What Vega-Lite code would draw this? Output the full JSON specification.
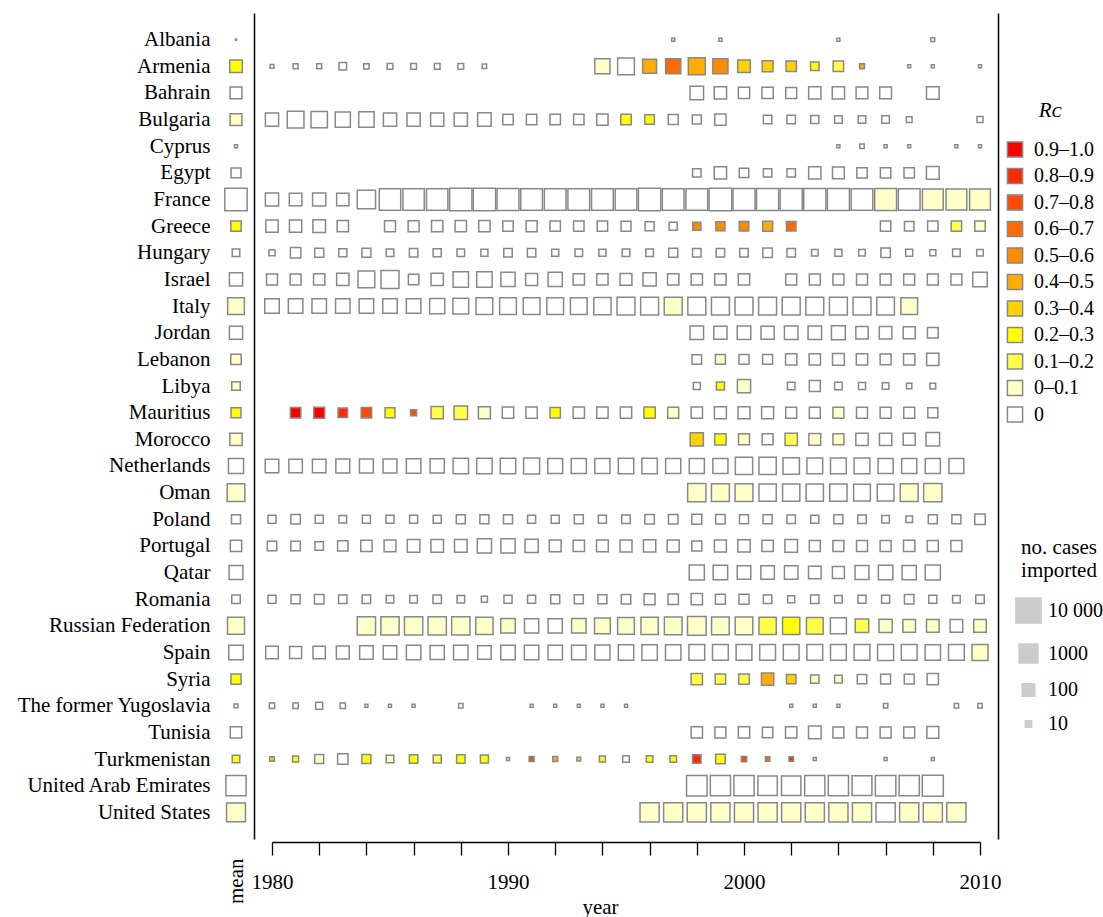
{
"$schema": "https://vega.github.io/schema/vega-lite/v6.json",
"padding": {"left": 16, "top": 13, "right": 2, "bottom": 0},
"config": {"font": "Liberation Serif", "view": {"stroke": null}, "axis": {"grid": false, "labelColor": "black", "titleColor": "black", "labelFont": "Liberation Serif", "titleFont": "Liberation Serif"}, "legend": {"labelFont": "Liberation Serif", "titleFont": "Liberation Serif", "labelColor": "black", "titleColor": "black"}},
"datasets": {
"means": [
{"country":"Albania","cases":1.5,"Rc":"0"},
{"country":"Armenia","cases":100,"Rc":"0.2–0.3"},
{"country":"Bahrain","cases":75,"Rc":"0"},
{"country":"Bulgaria","cases":75,"Rc":"0–0.1"},
{"country":"Cyprus","cases":3,"Rc":"0"},
{"country":"Egypt","cases":38,"Rc":"0"},
{"country":"France","cases":3500,"Rc":"0"},
{"country":"Greece","cases":45,"Rc":"0.2–0.3"},
{"country":"Hungary","cases":16,"Rc":"0"},
{"country":"Israel","cases":125,"Rc":"0"},
{"country":"Italy","cases":450,"Rc":"0–0.1"},
{"country":"Jordan","cases":125,"Rc":"0"},
{"country":"Lebanon","cases":45,"Rc":"0–0.1"},
{"country":"Libya","cases":22,"Rc":"0–0.1"},
{"country":"Mauritius","cases":38,"Rc":"0.2–0.3"},
{"country":"Morocco","cases":90,"Rc":"0–0.1"},
{"country":"Netherlands","cases":250,"Rc":"0"},
{"country":"Oman","cases":630,"Rc":"0–0.1"},
{"country":"Poland","cases":27,"Rc":"0"},
{"country":"Portugal","cases":63,"Rc":"0"},
{"country":"Qatar","cases":160,"Rc":"0"},
{"country":"Romania","cases":22,"Rc":"0"},
{"country":"Russian Federation","cases":500,"Rc":"0–0.1"},
{"country":"Spain","cases":200,"Rc":"0"},
{"country":"Syria","cases":40,"Rc":"0.2–0.3"},
{"country":"The former Yugoslavia","cases":4,"Rc":"0"},
{"country":"Tunisia","cases":63,"Rc":"0"},
{"country":"Turkmenistan","cases":16,"Rc":"0.2–0.3"},
{"country":"United Arab Emirates","cases":1600,"Rc":"0"},
{"country":"United States","cases":1000,"Rc":"0–0.1"}
],
"annual": [
{"country":"Albania","year":1997,"cases":3,"Rc":"0"},
{"country":"Albania","year":1999,"cases":3,"Rc":"0"},
{"country":"Albania","year":2004,"cases":3,"Rc":"0"},
{"country":"Albania","year":2008,"cases":4,"Rc":"0"},
{"country":"Armenia","year":1980,"cases":4,"Rc":"0"},
{"country":"Armenia","year":1981,"cases":6,"Rc":"0"},
{"country":"Armenia","year":1982,"cases":6,"Rc":"0"},
{"country":"Armenia","year":1983,"cases":16,"Rc":"0"},
{"country":"Armenia","year":1984,"cases":7,"Rc":"0"},
{"country":"Armenia","year":1985,"cases":8,"Rc":"0"},
{"country":"Armenia","year":1986,"cases":8,"Rc":"0"},
{"country":"Armenia","year":1987,"cases":8,"Rc":"0"},
{"country":"Armenia","year":1988,"cases":8,"Rc":"0"},
{"country":"Armenia","year":1989,"cases":5,"Rc":"0"},
{"country":"Armenia","year":1994,"cases":250,"Rc":"0–0.1"},
{"country":"Armenia","year":1995,"cases":450,"Rc":"0"},
{"country":"Armenia","year":1996,"cases":160,"Rc":"0.4–0.5"},
{"country":"Armenia","year":1997,"cases":250,"Rc":"0.6–0.7"},
{"country":"Armenia","year":1998,"cases":500,"Rc":"0.4–0.5"},
{"country":"Armenia","year":1999,"cases":250,"Rc":"0.5–0.6"},
{"country":"Armenia","year":2000,"cases":100,"Rc":"0.3–0.4"},
{"country":"Armenia","year":2001,"cases":53,"Rc":"0.3–0.4"},
{"country":"Armenia","year":2002,"cases":45,"Rc":"0.3–0.4"},
{"country":"Armenia","year":2003,"cases":22,"Rc":"0.2–0.3"},
{"country":"Armenia","year":2004,"cases":45,"Rc":"0.1–0.2"},
{"country":"Armenia","year":2005,"cases":6,"Rc":"0.4–0.5"},
{"country":"Armenia","year":2007,"cases":3,"Rc":"0"},
{"country":"Armenia","year":2008,"cases":3,"Rc":"0"},
{"country":"Armenia","year":2010,"cases":3,"Rc":"0"},
{"country":"Bahrain","year":1998,"cases":140,"Rc":"0"},
{"country":"Bahrain","year":1999,"cases":90,"Rc":"0"},
{"country":"Bahrain","year":2000,"cases":63,"Rc":"0"},
{"country":"Bahrain","year":2001,"cases":63,"Rc":"0"},
{"country":"Bahrain","year":2002,"cases":55,"Rc":"0"},
{"country":"Bahrain","year":2003,"cases":90,"Rc":"0"},
{"country":"Bahrain","year":2004,"cases":90,"Rc":"0"},
{"country":"Bahrain","year":2005,"cases":75,"Rc":"0"},
{"country":"Bahrain","year":2006,"cases":75,"Rc":"0"},
{"country":"Bahrain","year":2008,"cases":100,"Rc":"0"},
{"country":"Bulgaria","year":1980,"cases":125,"Rc":"0"},
{"country":"Bulgaria","year":1981,"cases":450,"Rc":"0"},
{"country":"Bulgaria","year":1982,"cases":400,"Rc":"0"},
{"country":"Bulgaria","year":1983,"cases":250,"Rc":"0"},
{"country":"Bulgaria","year":1984,"cases":280,"Rc":"0"},
{"country":"Bulgaria","year":1985,"cases":125,"Rc":"0"},
{"country":"Bulgaria","year":1986,"cases":125,"Rc":"0"},
{"country":"Bulgaria","year":1987,"cases":125,"Rc":"0"},
{"country":"Bulgaria","year":1988,"cases":125,"Rc":"0"},
{"country":"Bulgaria","year":1989,"cases":140,"Rc":"0"},
{"country":"Bulgaria","year":1990,"cases":45,"Rc":"0"},
{"country":"Bulgaria","year":1991,"cases":45,"Rc":"0"},
{"country":"Bulgaria","year":1992,"cases":45,"Rc":"0"},
{"country":"Bulgaria","year":1993,"cases":45,"Rc":"0"},
{"country":"Bulgaria","year":1994,"cases":63,"Rc":"0"},
{"country":"Bulgaria","year":1995,"cases":45,"Rc":"0.2–0.3"},
{"country":"Bulgaria","year":1996,"cases":32,"Rc":"0.2–0.3"},
{"country":"Bulgaria","year":1997,"cases":38,"Rc":"0"},
{"country":"Bulgaria","year":1998,"cases":27,"Rc":"0"},
{"country":"Bulgaria","year":1999,"cases":63,"Rc":"0"},
{"country":"Bulgaria","year":2001,"cases":22,"Rc":"0"},
{"country":"Bulgaria","year":2002,"cases":22,"Rc":"0"},
{"country":"Bulgaria","year":2003,"cases":19,"Rc":"0"},
{"country":"Bulgaria","year":2004,"cases":16,"Rc":"0"},
{"country":"Bulgaria","year":2005,"cases":16,"Rc":"0"},
{"country":"Bulgaria","year":2006,"cases":16,"Rc":"0"},
{"country":"Bulgaria","year":2007,"cases":8,"Rc":"0"},
{"country":"Bulgaria","year":2010,"cases":9,"Rc":"0"},
{"country":"Cyprus","year":2004,"cases":3,"Rc":"0"},
{"country":"Cyprus","year":2005,"cases":5,"Rc":"0"},
{"country":"Cyprus","year":2006,"cases":3,"Rc":"0"},
{"country":"Cyprus","year":2007,"cases":3,"Rc":"0"},
{"country":"Cyprus","year":2009,"cases":3,"Rc":"0"},
{"country":"Cyprus","year":2010,"cases":3,"Rc":"0"},
{"country":"Egypt","year":1998,"cases":22,"Rc":"0"},
{"country":"Egypt","year":1999,"cases":90,"Rc":"0"},
{"country":"Egypt","year":2000,"cases":32,"Rc":"0"},
{"country":"Egypt","year":2001,"cases":22,"Rc":"0"},
{"country":"Egypt","year":2002,"cases":22,"Rc":"0"},
{"country":"Egypt","year":2003,"cases":90,"Rc":"0"},
{"country":"Egypt","year":2004,"cases":75,"Rc":"0"},
{"country":"Egypt","year":2005,"cases":45,"Rc":"0"},
{"country":"Egypt","year":2006,"cases":45,"Rc":"0"},
{"country":"Egypt","year":2007,"cases":45,"Rc":"0"},
{"country":"Egypt","year":2008,"cases":105,"Rc":"0"},
{"country":"France","year":1980,"cases":125,"Rc":"0"},
{"country":"France","year":1981,"cases":100,"Rc":"0"},
{"country":"France","year":1982,"cases":125,"Rc":"0"},
{"country":"France","year":1983,"cases":90,"Rc":"0"},
{"country":"France","year":1984,"cases":800,"Rc":"0"},
{"country":"France","year":1985,"cases":2500,"Rc":"0"},
{"country":"France","year":1986,"cases":2500,"Rc":"0"},
{"country":"France","year":1987,"cases":2500,"Rc":"0"},
{"country":"France","year":1988,"cases":3500,"Rc":"0"},
{"country":"France","year":1989,"cases":3500,"Rc":"0"},
{"country":"France","year":1990,"cases":3000,"Rc":"0"},
{"country":"France","year":1991,"cases":2800,"Rc":"0"},
{"country":"France","year":1992,"cases":2800,"Rc":"0"},
{"country":"France","year":1993,"cases":2800,"Rc":"0"},
{"country":"France","year":1994,"cases":2800,"Rc":"0"},
{"country":"France","year":1995,"cases":2800,"Rc":"0"},
{"country":"France","year":1996,"cases":3500,"Rc":"0"},
{"country":"France","year":1997,"cases":2800,"Rc":"0"},
{"country":"France","year":1998,"cases":2800,"Rc":"0"},
{"country":"France","year":1999,"cases":4000,"Rc":"0"},
{"country":"France","year":2000,"cases":3200,"Rc":"0"},
{"country":"France","year":2001,"cases":3200,"Rc":"0"},
{"country":"France","year":2002,"cases":3200,"Rc":"0"},
{"country":"France","year":2003,"cases":3200,"Rc":"0"},
{"country":"France","year":2004,"cases":3200,"Rc":"0"},
{"country":"France","year":2005,"cases":2800,"Rc":"0"},
{"country":"France","year":2006,"cases":3000,"Rc":"0–0.1"},
{"country":"France","year":2007,"cases":2800,"Rc":"0"},
{"country":"France","year":2008,"cases":2000,"Rc":"0–0.1"},
{"country":"France","year":2009,"cases":2000,"Rc":"0–0.1"},
{"country":"France","year":2010,"cases":2000,"Rc":"0–0.1"},
{"country":"Greece","year":1980,"cases":90,"Rc":"0"},
{"country":"Greece","year":1981,"cases":90,"Rc":"0"},
{"country":"Greece","year":1982,"cases":100,"Rc":"0"},
{"country":"Greece","year":1983,"cases":63,"Rc":"0"},
{"country":"Greece","year":1985,"cases":55,"Rc":"0"},
{"country":"Greece","year":1986,"cases":55,"Rc":"0"},
{"country":"Greece","year":1987,"cases":63,"Rc":"0"},
{"country":"Greece","year":1988,"cases":63,"Rc":"0"},
{"country":"Greece","year":1989,"cases":63,"Rc":"0"},
{"country":"Greece","year":1990,"cases":45,"Rc":"0"},
{"country":"Greece","year":1991,"cases":55,"Rc":"0"},
{"country":"Greece","year":1992,"cases":45,"Rc":"0"},
{"country":"Greece","year":1993,"cases":45,"Rc":"0"},
{"country":"Greece","year":1994,"cases":45,"Rc":"0"},
{"country":"Greece","year":1995,"cases":38,"Rc":"0"},
{"country":"Greece","year":1996,"cases":27,"Rc":"0"},
{"country":"Greece","year":1997,"cases":19,"Rc":"0"},
{"country":"Greece","year":1998,"cases":19,"Rc":"0.5–0.6"},
{"country":"Greece","year":1999,"cases":27,"Rc":"0.5–0.6"},
{"country":"Greece","year":2000,"cases":32,"Rc":"0.5–0.6"},
{"country":"Greece","year":2001,"cases":38,"Rc":"0.4–0.5"},
{"country":"Greece","year":2002,"cases":32,"Rc":"0.6–0.7"},
{"country":"Greece","year":2006,"cases":45,"Rc":"0"},
{"country":"Greece","year":2007,"cases":32,"Rc":"0"},
{"country":"Greece","year":2008,"cases":45,"Rc":"0"},
{"country":"Greece","year":2009,"cases":45,"Rc":"0.1–0.2"},
{"country":"Greece","year":2010,"cases":45,"Rc":"0–0.1"},
{"country":"Hungary","year":1980,"cases":9,"Rc":"0"},
{"country":"Hungary","year":1981,"cases":45,"Rc":"0"},
{"country":"Hungary","year":1982,"cases":27,"Rc":"0"},
{"country":"Hungary","year":1983,"cases":19,"Rc":"0"},
{"country":"Hungary","year":1984,"cases":27,"Rc":"0"},
{"country":"Hungary","year":1985,"cases":16,"Rc":"0"},
{"country":"Hungary","year":1986,"cases":22,"Rc":"0"},
{"country":"Hungary","year":1987,"cases":19,"Rc":"0"},
{"country":"Hungary","year":1988,"cases":16,"Rc":"0"},
{"country":"Hungary","year":1989,"cases":13,"Rc":"0"},
{"country":"Hungary","year":1990,"cases":22,"Rc":"0"},
{"country":"Hungary","year":1991,"cases":22,"Rc":"0"},
{"country":"Hungary","year":1992,"cases":13,"Rc":"0"},
{"country":"Hungary","year":1993,"cases":16,"Rc":"0"},
{"country":"Hungary","year":1994,"cases":13,"Rc":"0"},
{"country":"Hungary","year":1995,"cases":16,"Rc":"0"},
{"country":"Hungary","year":1996,"cases":16,"Rc":"0"},
{"country":"Hungary","year":1997,"cases":27,"Rc":"0"},
{"country":"Hungary","year":1998,"cases":22,"Rc":"0"},
{"country":"Hungary","year":1999,"cases":22,"Rc":"0"},
{"country":"Hungary","year":2000,"cases":22,"Rc":"0"},
{"country":"Hungary","year":2001,"cases":32,"Rc":"0"},
{"country":"Hungary","year":2002,"cases":22,"Rc":"0"},
{"country":"Hungary","year":2003,"cases":11,"Rc":"0"},
{"country":"Hungary","year":2004,"cases":13,"Rc":"0"},
{"country":"Hungary","year":2005,"cases":11,"Rc":"0"},
{"country":"Hungary","year":2006,"cases":32,"Rc":"0"},
{"country":"Hungary","year":2007,"cases":13,"Rc":"0"},
{"country":"Hungary","year":2008,"cases":9,"Rc":"0"},
{"country":"Hungary","year":2009,"cases":16,"Rc":"0"},
{"country":"Hungary","year":2010,"cases":11,"Rc":"0"},
{"country":"Israel","year":1980,"cases":55,"Rc":"0"},
{"country":"Israel","year":1981,"cases":55,"Rc":"0"},
{"country":"Israel","year":1982,"cases":63,"Rc":"0"},
{"country":"Israel","year":1983,"cases":90,"Rc":"0"},
{"country":"Israel","year":1984,"cases":450,"Rc":"0"},
{"country":"Israel","year":1985,"cases":700,"Rc":"0"},
{"country":"Israel","year":1986,"cases":45,"Rc":"0"},
{"country":"Israel","year":1987,"cases":90,"Rc":"0"},
{"country":"Israel","year":1988,"cases":280,"Rc":"0"},
{"country":"Israel","year":1989,"cases":280,"Rc":"0"},
{"country":"Israel","year":1990,"cases":180,"Rc":"0"},
{"country":"Israel","year":1991,"cases":80,"Rc":"0"},
{"country":"Israel","year":1992,"cases":180,"Rc":"0"},
{"country":"Israel","year":1993,"cases":63,"Rc":"0"},
{"country":"Israel","year":1994,"cases":63,"Rc":"0"},
{"country":"Israel","year":1995,"cases":75,"Rc":"0"},
{"country":"Israel","year":1996,"cases":125,"Rc":"0"},
{"country":"Israel","year":1997,"cases":63,"Rc":"0"},
{"country":"Israel","year":1998,"cases":63,"Rc":"0"},
{"country":"Israel","year":1999,"cases":63,"Rc":"0"},
{"country":"Israel","year":2000,"cases":63,"Rc":"0"},
{"country":"Israel","year":2002,"cases":55,"Rc":"0"},
{"country":"Israel","year":2003,"cases":55,"Rc":"0"},
{"country":"Israel","year":2004,"cases":55,"Rc":"0"},
{"country":"Israel","year":2005,"cases":55,"Rc":"0"},
{"country":"Israel","year":2006,"cases":55,"Rc":"0"},
{"country":"Israel","year":2007,"cases":55,"Rc":"0"},
{"country":"Israel","year":2008,"cases":55,"Rc":"0"},
{"country":"Israel","year":2009,"cases":55,"Rc":"0"},
{"country":"Israel","year":2010,"cases":200,"Rc":"0"},
{"country":"Italy","year":1980,"cases":200,"Rc":"0"},
{"country":"Italy","year":1981,"cases":200,"Rc":"0"},
{"country":"Italy","year":1982,"cases":200,"Rc":"0"},
{"country":"Italy","year":1983,"cases":200,"Rc":"0"},
{"country":"Italy","year":1984,"cases":200,"Rc":"0"},
{"country":"Italy","year":1985,"cases":200,"Rc":"0"},
{"country":"Italy","year":1986,"cases":200,"Rc":"0"},
{"country":"Italy","year":1987,"cases":250,"Rc":"0"},
{"country":"Italy","year":1988,"cases":320,"Rc":"0"},
{"country":"Italy","year":1989,"cases":450,"Rc":"0"},
{"country":"Italy","year":1990,"cases":450,"Rc":"0"},
{"country":"Italy","year":1991,"cases":450,"Rc":"0"},
{"country":"Italy","year":1992,"cases":450,"Rc":"0"},
{"country":"Italy","year":1993,"cases":450,"Rc":"0"},
{"country":"Italy","year":1994,"cases":550,"Rc":"0"},
{"country":"Italy","year":1995,"cases":700,"Rc":"0"},
{"country":"Italy","year":1996,"cases":700,"Rc":"0"},
{"country":"Italy","year":1997,"cases":700,"Rc":"0–0.1"},
{"country":"Italy","year":1998,"cases":700,"Rc":"0"},
{"country":"Italy","year":1999,"cases":700,"Rc":"0"},
{"country":"Italy","year":2000,"cases":700,"Rc":"0"},
{"country":"Italy","year":2001,"cases":700,"Rc":"0"},
{"country":"Italy","year":2002,"cases":700,"Rc":"0"},
{"country":"Italy","year":2003,"cases":700,"Rc":"0"},
{"country":"Italy","year":2004,"cases":700,"Rc":"0"},
{"country":"Italy","year":2005,"cases":700,"Rc":"0"},
{"country":"Italy","year":2006,"cases":630,"Rc":"0"},
{"country":"Italy","year":2007,"cases":450,"Rc":"0–0.1"},
{"country":"Jordan","year":1998,"cases":140,"Rc":"0"},
{"country":"Jordan","year":1999,"cases":125,"Rc":"0"},
{"country":"Jordan","year":2000,"cases":140,"Rc":"0"},
{"country":"Jordan","year":2001,"cases":125,"Rc":"0"},
{"country":"Jordan","year":2002,"cases":140,"Rc":"0"},
{"country":"Jordan","year":2003,"cases":140,"Rc":"0"},
{"country":"Jordan","year":2004,"cases":160,"Rc":"0"},
{"country":"Jordan","year":2005,"cases":90,"Rc":"0"},
{"country":"Jordan","year":2006,"cases":100,"Rc":"0"},
{"country":"Jordan","year":2007,"cases":80,"Rc":"0"},
{"country":"Jordan","year":2008,"cases":50,"Rc":"0"},
{"country":"Lebanon","year":1998,"cases":32,"Rc":"0"},
{"country":"Lebanon","year":1999,"cases":38,"Rc":"0–0.1"},
{"country":"Lebanon","year":2000,"cases":38,"Rc":"0"},
{"country":"Lebanon","year":2001,"cases":38,"Rc":"0"},
{"country":"Lebanon","year":2002,"cases":63,"Rc":"0"},
{"country":"Lebanon","year":2003,"cases":63,"Rc":"0"},
{"country":"Lebanon","year":2004,"cases":75,"Rc":"0"},
{"country":"Lebanon","year":2005,"cases":63,"Rc":"0"},
{"country":"Lebanon","year":2006,"cases":55,"Rc":"0"},
{"country":"Lebanon","year":2007,"cases":63,"Rc":"0"},
{"country":"Lebanon","year":2008,"cases":90,"Rc":"0"},
{"country":"Libya","year":1998,"cases":13,"Rc":"0"},
{"country":"Libya","year":1999,"cases":19,"Rc":"0.2–0.3"},
{"country":"Libya","year":2000,"cases":125,"Rc":"0–0.1"},
{"country":"Libya","year":2002,"cases":16,"Rc":"0"},
{"country":"Libya","year":2003,"cases":55,"Rc":"0"},
{"country":"Libya","year":2004,"cases":16,"Rc":"0"},
{"country":"Libya","year":2005,"cases":13,"Rc":"0"},
{"country":"Libya","year":2006,"cases":11,"Rc":"0"},
{"country":"Libya","year":2007,"cases":7,"Rc":"0"},
{"country":"Libya","year":2008,"cases":8,"Rc":"0"},
{"country":"Mauritius","year":1981,"cases":45,"Rc":"0.9–1.0"},
{"country":"Mauritius","year":1982,"cases":55,"Rc":"0.9–1.0"},
{"country":"Mauritius","year":1983,"cases":32,"Rc":"0.8–0.9"},
{"country":"Mauritius","year":1984,"cases":45,"Rc":"0.7–0.8"},
{"country":"Mauritius","year":1985,"cases":38,"Rc":"0.2–0.3"},
{"country":"Mauritius","year":1986,"cases":9,"Rc":"0.7–0.8"},
{"country":"Mauritius","year":1987,"cases":90,"Rc":"0.1–0.2"},
{"country":"Mauritius","year":1988,"cases":140,"Rc":"0.1–0.2"},
{"country":"Mauritius","year":1989,"cases":80,"Rc":"0–0.1"},
{"country":"Mauritius","year":1990,"cases":63,"Rc":"0"},
{"country":"Mauritius","year":1991,"cases":63,"Rc":"0"},
{"country":"Mauritius","year":1992,"cases":45,"Rc":"0.2–0.3"},
{"country":"Mauritius","year":1993,"cases":63,"Rc":"0"},
{"country":"Mauritius","year":1994,"cases":63,"Rc":"0"},
{"country":"Mauritius","year":1995,"cases":63,"Rc":"0"},
{"country":"Mauritius","year":1996,"cases":63,"Rc":"0.2–0.3"},
{"country":"Mauritius","year":1997,"cases":55,"Rc":"0–0.1"},
{"country":"Mauritius","year":1998,"cases":63,"Rc":"0"},
{"country":"Mauritius","year":1999,"cases":80,"Rc":"0"},
{"country":"Mauritius","year":2000,"cases":80,"Rc":"0"},
{"country":"Mauritius","year":2001,"cases":80,"Rc":"0"},
{"country":"Mauritius","year":2002,"cases":55,"Rc":"0"},
{"country":"Mauritius","year":2003,"cases":55,"Rc":"0"},
{"country":"Mauritius","year":2004,"cases":55,"Rc":"0–0.1"},
{"country":"Mauritius","year":2005,"cases":55,"Rc":"0"},
{"country":"Mauritius","year":2006,"cases":55,"Rc":"0"},
{"country":"Mauritius","year":2007,"cases":55,"Rc":"0"},
{"country":"Mauritius","year":2008,"cases":38,"Rc":"0"},
{"country":"Morocco","year":1998,"cases":125,"Rc":"0.3–0.4"},
{"country":"Morocco","year":1999,"cases":63,"Rc":"0.2–0.3"},
{"country":"Morocco","year":2000,"cases":55,"Rc":"0–0.1"},
{"country":"Morocco","year":2001,"cases":55,"Rc":"0"},
{"country":"Morocco","year":2002,"cases":90,"Rc":"0.1–0.2"},
{"country":"Morocco","year":2003,"cases":75,"Rc":"0–0.1"},
{"country":"Morocco","year":2004,"cases":55,"Rc":"0–0.1"},
{"country":"Morocco","year":2005,"cases":90,"Rc":"0"},
{"country":"Morocco","year":2006,"cases":90,"Rc":"0"},
{"country":"Morocco","year":2007,"cases":80,"Rc":"0"},
{"country":"Morocco","year":2008,"cases":140,"Rc":"0"},
{"country":"Netherlands","year":1980,"cases":140,"Rc":"0"},
{"country":"Netherlands","year":1981,"cases":140,"Rc":"0"},
{"country":"Netherlands","year":1982,"cases":140,"Rc":"0"},
{"country":"Netherlands","year":1983,"cases":160,"Rc":"0"},
{"country":"Netherlands","year":1984,"cases":160,"Rc":"0"},
{"country":"Netherlands","year":1985,"cases":160,"Rc":"0"},
{"country":"Netherlands","year":1986,"cases":200,"Rc":"0"},
{"country":"Netherlands","year":1987,"cases":180,"Rc":"0"},
{"country":"Netherlands","year":1988,"cases":280,"Rc":"0"},
{"country":"Netherlands","year":1989,"cases":280,"Rc":"0"},
{"country":"Netherlands","year":1990,"cases":280,"Rc":"0"},
{"country":"Netherlands","year":1991,"cases":350,"Rc":"0"},
{"country":"Netherlands","year":1992,"cases":230,"Rc":"0"},
{"country":"Netherlands","year":1993,"cases":250,"Rc":"0"},
{"country":"Netherlands","year":1994,"cases":250,"Rc":"0"},
{"country":"Netherlands","year":1995,"cases":280,"Rc":"0"},
{"country":"Netherlands","year":1996,"cases":280,"Rc":"0"},
{"country":"Netherlands","year":1997,"cases":250,"Rc":"0"},
{"country":"Netherlands","year":1998,"cases":250,"Rc":"0"},
{"country":"Netherlands","year":1999,"cases":250,"Rc":"0"},
{"country":"Netherlands","year":2000,"cases":550,"Rc":"0"},
{"country":"Netherlands","year":2001,"cases":550,"Rc":"0"},
{"country":"Netherlands","year":2002,"cases":400,"Rc":"0"},
{"country":"Netherlands","year":2003,"cases":320,"Rc":"0"},
{"country":"Netherlands","year":2004,"cases":320,"Rc":"0"},
{"country":"Netherlands","year":2005,"cases":320,"Rc":"0"},
{"country":"Netherlands","year":2006,"cases":250,"Rc":"0"},
{"country":"Netherlands","year":2007,"cases":250,"Rc":"0"},
{"country":"Netherlands","year":2008,"cases":250,"Rc":"0"},
{"country":"Netherlands","year":2009,"cases":230,"Rc":"0"},
{"country":"Oman","year":1998,"cases":800,"Rc":"0–0.1"},
{"country":"Oman","year":1999,"cases":700,"Rc":"0–0.1"},
{"country":"Oman","year":2000,"cases":700,"Rc":"0–0.1"},
{"country":"Oman","year":2001,"cases":550,"Rc":"0"},
{"country":"Oman","year":2002,"cases":550,"Rc":"0"},
{"country":"Oman","year":2003,"cases":550,"Rc":"0"},
{"country":"Oman","year":2004,"cases":550,"Rc":"0"},
{"country":"Oman","year":2005,"cases":450,"Rc":"0"},
{"country":"Oman","year":2006,"cases":450,"Rc":"0"},
{"country":"Oman","year":2007,"cases":700,"Rc":"0–0.1"},
{"country":"Oman","year":2008,"cases":800,"Rc":"0–0.1"},
{"country":"Poland","year":1980,"cases":19,"Rc":"0"},
{"country":"Poland","year":1981,"cases":32,"Rc":"0"},
{"country":"Poland","year":1982,"cases":19,"Rc":"0"},
{"country":"Poland","year":1983,"cases":16,"Rc":"0"},
{"country":"Poland","year":1984,"cases":19,"Rc":"0"},
{"country":"Poland","year":1985,"cases":19,"Rc":"0"},
{"country":"Poland","year":1986,"cases":19,"Rc":"0"},
{"country":"Poland","year":1987,"cases":19,"Rc":"0"},
{"country":"Poland","year":1988,"cases":27,"Rc":"0"},
{"country":"Poland","year":1989,"cases":27,"Rc":"0"},
{"country":"Poland","year":1990,"cases":27,"Rc":"0"},
{"country":"Poland","year":1991,"cases":19,"Rc":"0"},
{"country":"Poland","year":1992,"cases":19,"Rc":"0"},
{"country":"Poland","year":1993,"cases":27,"Rc":"0"},
{"country":"Poland","year":1994,"cases":19,"Rc":"0"},
{"country":"Poland","year":1995,"cases":22,"Rc":"0"},
{"country":"Poland","year":1996,"cases":32,"Rc":"0"},
{"country":"Poland","year":1997,"cases":32,"Rc":"0"},
{"country":"Poland","year":1998,"cases":38,"Rc":"0"},
{"country":"Poland","year":1999,"cases":32,"Rc":"0"},
{"country":"Poland","year":2000,"cases":27,"Rc":"0"},
{"country":"Poland","year":2001,"cases":27,"Rc":"0"},
{"country":"Poland","year":2002,"cases":22,"Rc":"0"},
{"country":"Poland","year":2003,"cases":19,"Rc":"0"},
{"country":"Poland","year":2004,"cases":27,"Rc":"0"},
{"country":"Poland","year":2005,"cases":22,"Rc":"0"},
{"country":"Poland","year":2006,"cases":16,"Rc":"0"},
{"country":"Poland","year":2007,"cases":11,"Rc":"0"},
{"country":"Poland","year":2008,"cases":27,"Rc":"0"},
{"country":"Poland","year":2009,"cases":27,"Rc":"0"},
{"country":"Poland","year":2010,"cases":45,"Rc":"0"},
{"country":"Portugal","year":1980,"cases":32,"Rc":"0"},
{"country":"Portugal","year":1981,"cases":32,"Rc":"0"},
{"country":"Portugal","year":1982,"cases":22,"Rc":"0"},
{"country":"Portugal","year":1983,"cases":45,"Rc":"0"},
{"country":"Portugal","year":1984,"cases":63,"Rc":"0"},
{"country":"Portugal","year":1985,"cases":75,"Rc":"0"},
{"country":"Portugal","year":1986,"cases":100,"Rc":"0"},
{"country":"Portugal","year":1987,"cases":100,"Rc":"0"},
{"country":"Portugal","year":1988,"cases":100,"Rc":"0"},
{"country":"Portugal","year":1989,"cases":180,"Rc":"0"},
{"country":"Portugal","year":1990,"cases":180,"Rc":"0"},
{"country":"Portugal","year":1991,"cases":125,"Rc":"0"},
{"country":"Portugal","year":1992,"cases":75,"Rc":"0"},
{"country":"Portugal","year":1993,"cases":63,"Rc":"0"},
{"country":"Portugal","year":1994,"cases":75,"Rc":"0"},
{"country":"Portugal","year":1995,"cases":80,"Rc":"0"},
{"country":"Portugal","year":1996,"cases":90,"Rc":"0"},
{"country":"Portugal","year":1997,"cases":80,"Rc":"0"},
{"country":"Portugal","year":1998,"cases":38,"Rc":"0"},
{"country":"Portugal","year":1999,"cases":80,"Rc":"0"},
{"country":"Portugal","year":2000,"cases":90,"Rc":"0"},
{"country":"Portugal","year":2001,"cases":63,"Rc":"0"},
{"country":"Portugal","year":2002,"cases":100,"Rc":"0"},
{"country":"Portugal","year":2003,"cases":55,"Rc":"0"},
{"country":"Portugal","year":2004,"cases":55,"Rc":"0"},
{"country":"Portugal","year":2005,"cases":55,"Rc":"0"},
{"country":"Portugal","year":2006,"cases":55,"Rc":"0"},
{"country":"Portugal","year":2007,"cases":63,"Rc":"0"},
{"country":"Portugal","year":2008,"cases":55,"Rc":"0"},
{"country":"Portugal","year":2009,"cases":55,"Rc":"0"},
{"country":"Qatar","year":1998,"cases":250,"Rc":"0"},
{"country":"Qatar","year":1999,"cases":200,"Rc":"0"},
{"country":"Qatar","year":2000,"cases":140,"Rc":"0"},
{"country":"Qatar","year":2001,"cases":140,"Rc":"0"},
{"country":"Qatar","year":2002,"cases":140,"Rc":"0"},
{"country":"Qatar","year":2003,"cases":100,"Rc":"0"},
{"country":"Qatar","year":2004,"cases":80,"Rc":"0"},
{"country":"Qatar","year":2005,"cases":160,"Rc":"0"},
{"country":"Qatar","year":2006,"cases":200,"Rc":"0"},
{"country":"Qatar","year":2007,"cases":180,"Rc":"0"},
{"country":"Qatar","year":2008,"cases":250,"Rc":"0"},
{"country":"Romania","year":1980,"cases":19,"Rc":"0"},
{"country":"Romania","year":1981,"cases":27,"Rc":"0"},
{"country":"Romania","year":1982,"cases":32,"Rc":"0"},
{"country":"Romania","year":1983,"cases":22,"Rc":"0"},
{"country":"Romania","year":1984,"cases":22,"Rc":"0"},
{"country":"Romania","year":1985,"cases":16,"Rc":"0"},
{"country":"Romania","year":1986,"cases":16,"Rc":"0"},
{"country":"Romania","year":1987,"cases":22,"Rc":"0"},
{"country":"Romania","year":1988,"cases":16,"Rc":"0"},
{"country":"Romania","year":1989,"cases":9,"Rc":"0"},
{"country":"Romania","year":1990,"cases":19,"Rc":"0"},
{"country":"Romania","year":1991,"cases":19,"Rc":"0"},
{"country":"Romania","year":1992,"cases":27,"Rc":"0"},
{"country":"Romania","year":1993,"cases":27,"Rc":"0"},
{"country":"Romania","year":1994,"cases":27,"Rc":"0"},
{"country":"Romania","year":1995,"cases":32,"Rc":"0"},
{"country":"Romania","year":1996,"cases":55,"Rc":"0"},
{"country":"Romania","year":1997,"cases":45,"Rc":"0"},
{"country":"Romania","year":1998,"cases":63,"Rc":"0"},
{"country":"Romania","year":1999,"cases":38,"Rc":"0"},
{"country":"Romania","year":2000,"cases":38,"Rc":"0"},
{"country":"Romania","year":2001,"cases":22,"Rc":"0"},
{"country":"Romania","year":2002,"cases":13,"Rc":"0"},
{"country":"Romania","year":2003,"cases":22,"Rc":"0"},
{"country":"Romania","year":2004,"cases":16,"Rc":"0"},
{"country":"Romania","year":2005,"cases":19,"Rc":"0"},
{"country":"Romania","year":2006,"cases":19,"Rc":"0"},
{"country":"Romania","year":2007,"cases":32,"Rc":"0"},
{"country":"Romania","year":2008,"cases":19,"Rc":"0"},
{"country":"Romania","year":2009,"cases":16,"Rc":"0"},
{"country":"Romania","year":2010,"cases":22,"Rc":"0"},
{"country":"Russian Federation","year":1984,"cases":800,"Rc":"0–0.1"},
{"country":"Russian Federation","year":1985,"cases":800,"Rc":"0–0.1"},
{"country":"Russian Federation","year":1986,"cases":800,"Rc":"0–0.1"},
{"country":"Russian Federation","year":1987,"cases":800,"Rc":"0–0.1"},
{"country":"Russian Federation","year":1988,"cases":800,"Rc":"0–0.1"},
{"country":"Russian Federation","year":1989,"cases":550,"Rc":"0–0.1"},
{"country":"Russian Federation","year":1990,"cases":200,"Rc":"0–0.1"},
{"country":"Russian Federation","year":1991,"cases":180,"Rc":"0"},
{"country":"Russian Federation","year":1992,"cases":180,"Rc":"0"},
{"country":"Russian Federation","year":1993,"cases":200,"Rc":"0–0.1"},
{"country":"Russian Federation","year":1994,"cases":320,"Rc":"0–0.1"},
{"country":"Russian Federation","year":1995,"cases":450,"Rc":"0–0.1"},
{"country":"Russian Federation","year":1996,"cases":550,"Rc":"0–0.1"},
{"country":"Russian Federation","year":1997,"cases":630,"Rc":"0–0.1"},
{"country":"Russian Federation","year":1998,"cases":900,"Rc":"0–0.1"},
{"country":"Russian Federation","year":1999,"cases":630,"Rc":"0–0.1"},
{"country":"Russian Federation","year":2000,"cases":630,"Rc":"0–0.1"},
{"country":"Russian Federation","year":2001,"cases":550,"Rc":"0.1–0.2"},
{"country":"Russian Federation","year":2002,"cases":550,"Rc":"0.2–0.3"},
{"country":"Russian Federation","year":2003,"cases":450,"Rc":"0.1–0.2"},
{"country":"Russian Federation","year":2004,"cases":350,"Rc":"0"},
{"country":"Russian Federation","year":2005,"cases":140,"Rc":"0.1–0.2"},
{"country":"Russian Federation","year":2006,"cases":125,"Rc":"0–0.1"},
{"country":"Russian Federation","year":2007,"cases":100,"Rc":"0–0.1"},
{"country":"Russian Federation","year":2008,"cases":100,"Rc":"0–0.1"},
{"country":"Russian Federation","year":2009,"cases":100,"Rc":"0"},
{"country":"Russian Federation","year":2010,"cases":100,"Rc":"0–0.1"},
{"country":"Spain","year":1980,"cases":100,"Rc":"0"},
{"country":"Spain","year":1981,"cases":80,"Rc":"0"},
{"country":"Spain","year":1982,"cases":90,"Rc":"0"},
{"country":"Spain","year":1983,"cases":110,"Rc":"0"},
{"country":"Spain","year":1984,"cases":140,"Rc":"0"},
{"country":"Spain","year":1985,"cases":140,"Rc":"0"},
{"country":"Spain","year":1986,"cases":200,"Rc":"0"},
{"country":"Spain","year":1987,"cases":180,"Rc":"0"},
{"country":"Spain","year":1988,"cases":200,"Rc":"0"},
{"country":"Spain","year":1989,"cases":140,"Rc":"0"},
{"country":"Spain","year":1990,"cases":200,"Rc":"0"},
{"country":"Spain","year":1991,"cases":200,"Rc":"0"},
{"country":"Spain","year":1992,"cases":200,"Rc":"0"},
{"country":"Spain","year":1993,"cases":200,"Rc":"0"},
{"country":"Spain","year":1994,"cases":250,"Rc":"0"},
{"country":"Spain","year":1995,"cases":280,"Rc":"0"},
{"country":"Spain","year":1996,"cases":280,"Rc":"0"},
{"country":"Spain","year":1997,"cases":280,"Rc":"0"},
{"country":"Spain","year":1998,"cases":320,"Rc":"0"},
{"country":"Spain","year":1999,"cases":320,"Rc":"0"},
{"country":"Spain","year":2000,"cases":320,"Rc":"0"},
{"country":"Spain","year":2001,"cases":320,"Rc":"0"},
{"country":"Spain","year":2002,"cases":320,"Rc":"0"},
{"country":"Spain","year":2003,"cases":320,"Rc":"0"},
{"country":"Spain","year":2004,"cases":320,"Rc":"0"},
{"country":"Spain","year":2005,"cases":320,"Rc":"0"},
{"country":"Spain","year":2006,"cases":350,"Rc":"0"},
{"country":"Spain","year":2007,"cases":320,"Rc":"0"},
{"country":"Spain","year":2008,"cases":280,"Rc":"0"},
{"country":"Spain","year":2009,"cases":320,"Rc":"0"},
{"country":"Spain","year":2010,"cases":350,"Rc":"0–0.1"},
{"country":"Syria","year":1998,"cases":63,"Rc":"0.1–0.2"},
{"country":"Syria","year":1999,"cases":45,"Rc":"0.1–0.2"},
{"country":"Syria","year":2000,"cases":45,"Rc":"0.1–0.2"},
{"country":"Syria","year":2001,"cases":90,"Rc":"0.4–0.5"},
{"country":"Syria","year":2002,"cases":32,"Rc":"0.3–0.4"},
{"country":"Syria","year":2003,"cases":22,"Rc":"0–0.1"},
{"country":"Syria","year":2004,"cases":16,"Rc":"0–0.1"},
{"country":"Syria","year":2005,"cases":32,"Rc":"0"},
{"country":"Syria","year":2006,"cases":38,"Rc":"0"},
{"country":"Syria","year":2007,"cases":38,"Rc":"0"},
{"country":"Syria","year":2008,"cases":63,"Rc":"0"},
{"country":"The former Yugoslavia","year":1980,"cases":7,"Rc":"0"},
{"country":"The former Yugoslavia","year":1981,"cases":7,"Rc":"0"},
{"country":"The former Yugoslavia","year":1982,"cases":13,"Rc":"0"},
{"country":"The former Yugoslavia","year":1983,"cases":7,"Rc":"0"},
{"country":"The former Yugoslavia","year":1984,"cases":3,"Rc":"0"},
{"country":"The former Yugoslavia","year":1985,"cases":3,"Rc":"0"},
{"country":"The former Yugoslavia","year":1986,"cases":3,"Rc":"0"},
{"country":"The former Yugoslavia","year":1988,"cases":5,"Rc":"0"},
{"country":"The former Yugoslavia","year":1991,"cases":3,"Rc":"0"},
{"country":"The former Yugoslavia","year":1992,"cases":3,"Rc":"0"},
{"country":"The former Yugoslavia","year":1993,"cases":3,"Rc":"0"},
{"country":"The former Yugoslavia","year":1994,"cases":3,"Rc":"0"},
{"country":"The former Yugoslavia","year":1995,"cases":3,"Rc":"0"},
{"country":"The former Yugoslavia","year":2002,"cases":3,"Rc":"0"},
{"country":"The former Yugoslavia","year":2003,"cases":3,"Rc":"0"},
{"country":"The former Yugoslavia","year":2004,"cases":3,"Rc":"0"},
{"country":"The former Yugoslavia","year":2006,"cases":5,"Rc":"0"},
{"country":"The former Yugoslavia","year":2009,"cases":5,"Rc":"0"},
{"country":"The former Yugoslavia","year":2010,"cases":5,"Rc":"0"},
{"country":"Tunisia","year":1998,"cases":63,"Rc":"0"},
{"country":"Tunisia","year":1999,"cases":55,"Rc":"0"},
{"country":"Tunisia","year":2000,"cases":63,"Rc":"0"},
{"country":"Tunisia","year":2001,"cases":45,"Rc":"0"},
{"country":"Tunisia","year":2002,"cases":63,"Rc":"0"},
{"country":"Tunisia","year":2003,"cases":100,"Rc":"0"},
{"country":"Tunisia","year":2004,"cases":55,"Rc":"0"},
{"country":"Tunisia","year":2005,"cases":55,"Rc":"0"},
{"country":"Tunisia","year":2006,"cases":55,"Rc":"0"},
{"country":"Tunisia","year":2007,"cases":55,"Rc":"0"},
{"country":"Tunisia","year":2008,"cases":75,"Rc":"0"},
{"country":"Turkmenistan","year":1980,"cases":5,"Rc":"0.3–0.4"},
{"country":"Turkmenistan","year":1981,"cases":9,"Rc":"0.2–0.3"},
{"country":"Turkmenistan","year":1982,"cases":27,"Rc":"0–0.1"},
{"country":"Turkmenistan","year":1983,"cases":45,"Rc":"0"},
{"country":"Turkmenistan","year":1984,"cases":27,"Rc":"0.2–0.3"},
{"country":"Turkmenistan","year":1985,"cases":16,"Rc":"0–0.1"},
{"country":"Turkmenistan","year":1986,"cases":22,"Rc":"0.2–0.3"},
{"country":"Turkmenistan","year":1987,"cases":19,"Rc":"0.1–0.2"},
{"country":"Turkmenistan","year":1988,"cases":22,"Rc":"0.2–0.3"},
{"country":"Turkmenistan","year":1989,"cases":19,"Rc":"0.2–0.3"},
{"country":"Turkmenistan","year":1990,"cases":3,"Rc":"0"},
{"country":"Turkmenistan","year":1991,"cases":6,"Rc":"0.7–0.8"},
{"country":"Turkmenistan","year":1992,"cases":6,"Rc":"0.4–0.5"},
{"country":"Turkmenistan","year":1993,"cases":4,"Rc":"0.3–0.4"},
{"country":"Turkmenistan","year":1994,"cases":9,"Rc":"0.2–0.3"},
{"country":"Turkmenistan","year":1995,"cases":11,"Rc":"0"},
{"country":"Turkmenistan","year":1996,"cases":11,"Rc":"0.2–0.3"},
{"country":"Turkmenistan","year":1997,"cases":11,"Rc":"0.2–0.3"},
{"country":"Turkmenistan","year":1998,"cases":22,"Rc":"0.8–0.9"},
{"country":"Turkmenistan","year":1999,"cases":32,"Rc":"0.2–0.3"},
{"country":"Turkmenistan","year":2000,"cases":7,"Rc":"0.7–0.8"},
{"country":"Turkmenistan","year":2001,"cases":5,"Rc":"0.6–0.7"},
{"country":"Turkmenistan","year":2002,"cases":5,"Rc":"0.8–0.9"},
{"country":"Turkmenistan","year":2003,"cases":3,"Rc":"0"},
{"country":"Turkmenistan","year":2006,"cases":3,"Rc":"0"},
{"country":"Turkmenistan","year":2008,"cases":3,"Rc":"0"},
{"country":"United Arab Emirates","year":1998,"cases":1800,"Rc":"0"},
{"country":"United Arab Emirates","year":1999,"cases":1600,"Rc":"0"},
{"country":"United Arab Emirates","year":2000,"cases":1600,"Rc":"0"},
{"country":"United Arab Emirates","year":2001,"cases":1200,"Rc":"0"},
{"country":"United Arab Emirates","year":2002,"cases":1200,"Rc":"0"},
{"country":"United Arab Emirates","year":2003,"cases":1600,"Rc":"0"},
{"country":"United Arab Emirates","year":2004,"cases":1600,"Rc":"0"},
{"country":"United Arab Emirates","year":2005,"cases":1400,"Rc":"0"},
{"country":"United Arab Emirates","year":2006,"cases":1800,"Rc":"0"},
{"country":"United Arab Emirates","year":2007,"cases":1600,"Rc":"0"},
{"country":"United Arab Emirates","year":2008,"cases":2200,"Rc":"0"},
{"country":"United States","year":1996,"cases":1100,"Rc":"0–0.1"},
{"country":"United States","year":1997,"cases":1100,"Rc":"0–0.1"},
{"country":"United States","year":1998,"cases":1100,"Rc":"0–0.1"},
{"country":"United States","year":1999,"cases":1100,"Rc":"0–0.1"},
{"country":"United States","year":2000,"cases":1100,"Rc":"0–0.1"},
{"country":"United States","year":2001,"cases":1100,"Rc":"0–0.1"},
{"country":"United States","year":2002,"cases":1100,"Rc":"0–0.1"},
{"country":"United States","year":2003,"cases":1100,"Rc":"0–0.1"},
{"country":"United States","year":2004,"cases":1100,"Rc":"0–0.1"},
{"country":"United States","year":2005,"cases":1100,"Rc":"0–0.1"},
{"country":"United States","year":2006,"cases":1100,"Rc":"0"},
{"country":"United States","year":2007,"cases":1100,"Rc":"0–0.1"},
{"country":"United States","year":2008,"cases":1100,"Rc":"0–0.1"},
{"country":"United States","year":2009,"cases":1100,"Rc":"0–0.1"}
]
},
"spacing": 18,
"bounds": "flush",
"hconcat": [
{
"width": 36, "height": 826,
"data": {"name": "means"},
"transform": [{"calculate": "log(datum.cases)/LN10", "as": "logc"}],
"mark": {"type": "square", "filled": true, "stroke": "#888888", "strokeWidth": 1.5, "opacity": 1},
"encoding": {
"x": {"datum": "mean", "type": "nominal", "scale": {"type": "point", "padding": 0.5}, "axis": {"title": null, "domain": false, "ticks": false, "labelAngle": -90, "labelFontSize": 21, "labelPadding": 19}},
"y": {"field": "country", "type": "nominal", "scale": {"type": "point", "padding": 1, "domain": ["Albania","Armenia","Bahrain","Bulgaria","Cyprus","Egypt","France","Greece","Hungary","Israel","Italy","Jordan","Lebanon","Libya","Mauritius","Morocco","Netherlands","Oman","Poland","Portugal","Qatar","Romania","Russian Federation","Spain","Syria","The former Yugoslavia","Tunisia","Turkmenistan","United Arab Emirates","United States"]}, "axis": {"title": null, "domain": false, "ticks": false, "labelFontSize": 21, "labelPadding": 8, "labelLimit": 400}},
"color": {"field": "Rc", "type": "nominal", "scale": {"domain": ["0.9–1.0","0.8–0.9","0.7–0.8","0.6–0.7","0.5–0.6","0.4–0.5","0.3–0.4","0.2–0.3","0.1–0.2","0–0.1","0"], "range": ["#ff0000","#ff2a00","#ff4b00","#ff6a00","#ff8c00","#ffae00","#ffd200","#ffff00","#ffff48","#ffffc8","#ffffff"]}, "legend": {"orient": "none", "legendX": 787, "legendY": 87, "title": "Rᴄ", "titleFontStyle": "italic", "titleFontSize": 21, "titleFontWeight": "normal", "titleAnchor": "middle", "titlePadding": 18.5, "symbolType": "square", "symbolSize": 231, "symbolStrokeColor": "#888888", "symbolStrokeWidth": 1.5, "symbolOpacity": 1, "labelFontSize": 20, "labelOffset": 9, "rowPadding": 4.5}},
"size": {"field": "logc", "type": "quantitative", "scale": {"type": "pow", "exponent": 2, "domain": [0, 4], "range": [0, 635]}, "legend": {"orient": "none", "legendX": 797, "legendY": 524, "title": ["no. cases", "imported"], "titleFontSize": 21, "titleFontWeight": "normal", "titleAnchor": "middle", "titleLineHeight": 23, "titlePadding": 16, "values": [4, 3, 2, 1], "labelExpr": "datum.value == 4 ? '10 000' : datum.value == 3 ? '1000' : datum.value == 2 ? '100' : '10'", "symbolType": "square", "symbolFillColor": "#cccccc", "symbolStrokeColor": "#cccccc", "symbolStrokeWidth": 1.5, "symbolOpacity": 1, "labelFontSize": 20, "labelOffset": 6, "rowPadding": 14}}
}
},
{
"width": 708, "height": 826,
"data": {"name": "annual"},
"transform": [{"calculate": "log(datum.cases)/LN10", "as": "logc"}],
"layer": [
{
"mark": {"type": "square", "filled": true, "stroke": "#888888", "strokeWidth": 1.5, "opacity": 1},
"encoding": {
"x": {"field": "year", "type": "quantitative", "scale": {"domain": [1980, 2010], "nice": false, "zero": false}, "axis": {"orient": "bottom", "offset": 3, "values": [1980,1981,1982,1983,1984,1985,1986,1987,1988,1989,1990,1991,1992,1993,1994,1995,1996,1997,1998,1999,2000,2001,2002,2003,2004,2005,2006,2007,2008,2009,2010], "tickSize": 13, "tickWidth": 1.3, "tickColor": "black", "domainColor": "black", "domainWidth": 1.5, "labelExpr": "datum.value % 10 == 0 ? '' + datum.value : ''", "labelFontSize": 21, "labelPadding": 16, "labelFlush": false, "labelOverlap": false, "title": "year", "titleFontSize": 21, "titleFontWeight": "normal", "titlePadding": 4, "titleX": 328}},
"y": {"field": "country", "type": "nominal", "scale": {"type": "point", "padding": 1, "domain": ["Albania","Armenia","Bahrain","Bulgaria","Cyprus","Egypt","France","Greece","Hungary","Israel","Italy","Jordan","Lebanon","Libya","Mauritius","Morocco","Netherlands","Oman","Poland","Portugal","Qatar","Romania","Russian Federation","Spain","Syria","The former Yugoslavia","Tunisia","Turkmenistan","United Arab Emirates","United States"]}, "axis": {"orient": "left", "offset": 18, "title": null, "labels": false, "ticks": false, "domain": true, "domainColor": "black", "domainWidth": 1.5}},
"color": {"field": "Rc", "type": "nominal", "scale": {"domain": ["0.9–1.0","0.8–0.9","0.7–0.8","0.6–0.7","0.5–0.6","0.4–0.5","0.3–0.4","0.2–0.3","0.1–0.2","0–0.1","0"], "range": ["#ff0000","#ff2a00","#ff4b00","#ff6a00","#ff8c00","#ffae00","#ffd200","#ffff00","#ffff48","#ffffc8","#ffffff"]}, "legend": {"orient": "none", "legendX": 787, "legendY": 87, "title": "Rᴄ", "titleFontStyle": "italic", "titleFontSize": 21, "titleFontWeight": "normal", "titleAnchor": "middle", "titlePadding": 18.5, "symbolType": "square", "symbolSize": 231, "symbolStrokeColor": "#888888", "symbolStrokeWidth": 1.5, "symbolOpacity": 1, "labelFontSize": 20, "labelOffset": 9, "rowPadding": 4.5}},
"size": {"field": "logc", "type": "quantitative", "scale": {"type": "pow", "exponent": 2, "domain": [0, 4], "range": [0, 635]}, "legend": {"orient": "none", "legendX": 797, "legendY": 524, "title": ["no. cases", "imported"], "titleFontSize": 21, "titleFontWeight": "normal", "titleAnchor": "middle", "titleLineHeight": 23, "titlePadding": 16, "values": [4, 3, 2, 1], "labelExpr": "datum.value == 4 ? '10 000' : datum.value == 3 ? '1000' : datum.value == 2 ? '100' : '10'", "symbolType": "square", "symbolFillColor": "#cccccc", "symbolStrokeColor": "#cccccc", "symbolStrokeWidth": 1.5, "symbolOpacity": 1, "labelFontSize": 20, "labelOffset": 6, "rowPadding": 14}}
}
},
{
"mark": {"type": "square", "opacity": 0},
"encoding": {
"x": {"field": "year", "type": "quantitative"},
"y": {"field": "country", "type": "nominal", "scale": {"type": "point", "padding": 1, "domain": ["Albania","Armenia","Bahrain","Bulgaria","Cyprus","Egypt","France","Greece","Hungary","Israel","Italy","Jordan","Lebanon","Libya","Mauritius","Morocco","Netherlands","Oman","Poland","Portugal","Qatar","Romania","Russian Federation","Spain","Syria","The former Yugoslavia","Tunisia","Turkmenistan","United Arab Emirates","United States"]}, "axis": {"orient": "right", "offset": 18, "title": null, "labels": false, "ticks": false, "domain": true, "domainColor": "black", "domainWidth": 1.5}}
}
}
],
"resolve": {"scale": {"y": "independent"}, "axis": {"y": "independent"}}
}
]
}
